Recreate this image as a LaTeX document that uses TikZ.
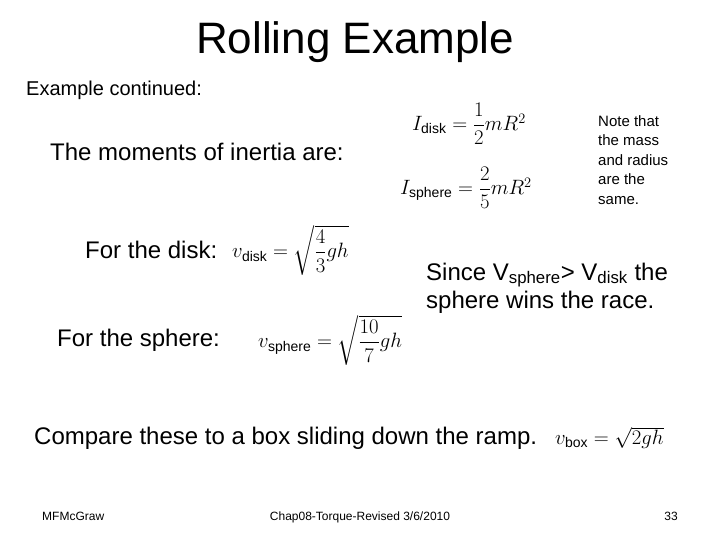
\documentclass[tikz,border=0pt]{standalone}
\usepackage{fontspec}
\setmainfont{Liberation Sans}
\usepackage{amsmath}
\begin{document}
\begin{tikzpicture}[x=1pt,y=-1pt,every node/.style={inner sep=0pt}]
\useasboundingbox[fill=white] (0,0) rectangle (720,540);
\tikzset{txt/.style={font=\fontsize{24}{28}\selectfont,anchor=west},
 eq/.style={font=\fontsize{20}{24}\selectfont,anchor=west},
 foot/.style={font=\fontsize{12}{14}\selectfont}}
\node[font=\fontsize{44}{50}\selectfont] (title) at (355,42) {Rolling Example};
\node[font=\fontsize{20}{24}\selectfont,anchor=west] (cont) at (26,90) {Example continued:};
\node[txt] (mom) at (50,152) {The moments of inertia are:};
\node[eq] (idisk) at (412,124) {$I_{\text{disk}}=\dfrac{1}{2}mR^2$};
\node[eq] (isph) at (400,188) {$I_{\text{sphere}}=\dfrac{2}{5}mR^2$};
\node[font=\fontsize{15}{19.5}\selectfont,align=left,anchor=west] (note) at (598,160) {Note that\\the mass\\and radius\\are the\\same.};
\node[txt] (fd) at (85,250) {For the disk:};
\node[eq] (vd) at (232,250) {$v_{\text{disk}}=\sqrt{\dfrac{4}{3}gh}$};
\node[txt,align=left] (since) at (426,288) {Since V\textsubscript{sphere}> V\textsubscript{disk} the\\sphere wins the race.};
\node[txt] (fs) at (57,340) {For the sphere:};
\node[eq] (vs) at (258,340) {$v_{\text{sphere}}=\sqrt{\dfrac{10}{7}gh}$};
\node[txt] (cmp) at (34,438) {Compare these to a box sliding down the ramp.};
\node[eq] (vb) at (555,438) {$v_{\text{box}}=\sqrt{2gh}$};
\node[foot,anchor=base west] (f1) at (42,520) {MFMcGraw};
\node[foot,anchor=base] (f2) at (360,520) {Chap08-Torque-Revised 3/6/2010};
\node[foot,anchor=base] (f3) at (671,520) {33};
\end{tikzpicture}
\end{document}
